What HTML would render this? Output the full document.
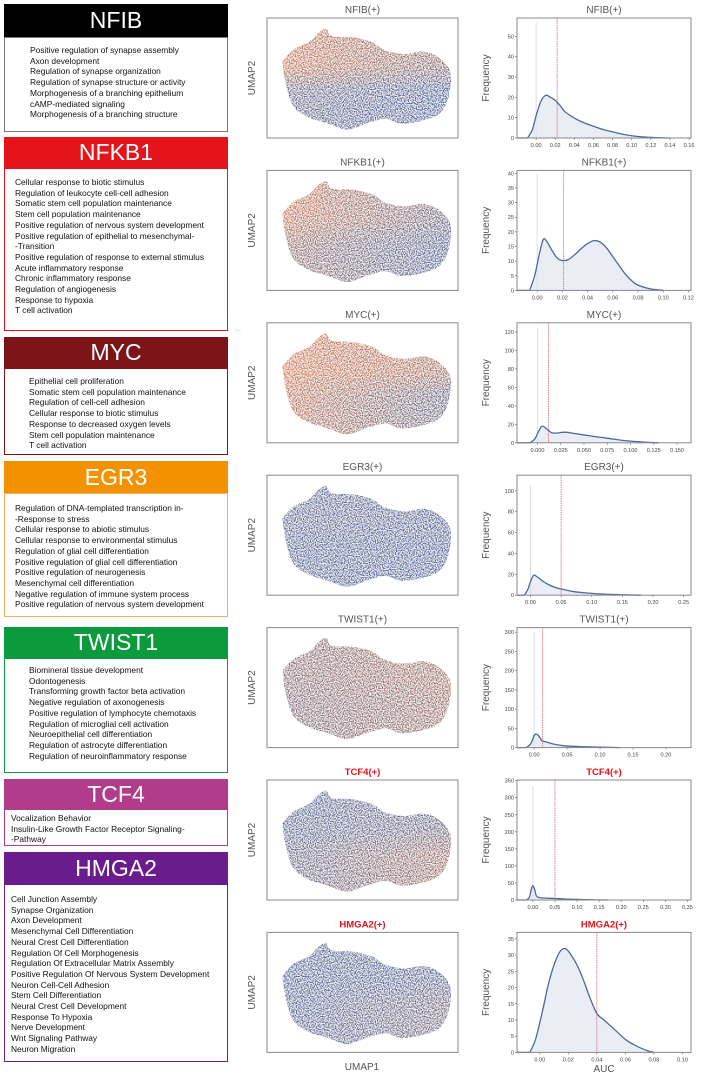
<!DOCTYPE html>
<html><head><meta charset="utf-8"><style>
body{margin:0;width:703px;height:1081px;background:#fff;position:relative;overflow:hidden;font-family:"Liberation Sans",sans-serif}
.hdr{position:absolute;left:4px;width:224px;color:#fff;font-size:23px;text-align:center;box-sizing:border-box}
.box{position:absolute;left:4px;width:224px;box-sizing:border-box;border:1px solid #777;font-size:8.4px;line-height:10.7px;color:#111}
.box div{white-space:nowrap}
svg{position:absolute;left:0;top:0}
</style></head><body>
<div class="hdr" style="top:4px;height:33px;line-height:33px;background:#000">NFIB</div>
<div class="box" style="top:37px;height:95px;padding:7px 0 0 25px">
<div>Positive regulation of synapse assembly</div><div>Axon development</div><div>Regulation of synapse organization</div><div>Regulation of synapse structure or activity</div><div>Morphogenesis of a branching epithelium</div><div>cAMP-mediated signaling</div><div>Morphogenesis of a branching structure</div></div>

<div class="hdr" style="top:137px;height:31px;line-height:31px;background:#e5141b">NFKB1</div>
<div class="box" style="top:168px;height:163px;border-color:#e5141b;padding:8px 0 0 10px">
<div>Cellular response to biotic stimulus</div><div>Regulation of leukocyte cell-cell adhesion</div><div>Somatic stem cell population maintenance</div><div>Stem cell population maintenance</div><div>Positive regulation of nervous system development</div><div>Positive regulation of epithelial to mesenchymal-</div><div>-Transition</div><div>Positive regulation of response to external stimulus</div><div>Acute inflammatory response</div><div>Chronic inflammatory response</div><div>Regulation of angiogenesis</div><div>Response to hypoxia</div><div>T cell activation</div></div>

<div class="hdr" style="top:337px;height:31px;line-height:31px;background:#7d1418">MYC</div>
<div class="box" style="top:368px;height:87px;border-color:#7d1418;padding:7px 0 0 24px">
<div>Epithelial cell proliferation</div><div>Somatic stem cell population maintenance</div><div>Regulation of cell-cell adhesion</div><div>Cellular response to biotic stimulus</div><div>Response to decreased oxygen levels</div><div>Stem cell population maintenance</div><div>T cell activation</div></div>

<div class="hdr" style="top:461px;height:32px;line-height:32px;background:#f39200">EGR3</div>
<div class="box" style="top:493px;height:124px;border-color:#f3b060;padding:9px 0 0 10px">
<div>Regulation of DNA-templated transcription in-</div><div>-Response to stress</div><div>Cellular response to abiotic stimulus</div><div>Cellular response to environmental stimulus</div><div>Regulation of glial cell differentiation</div><div>Positive regulation of glial cell differentiation</div><div>Positive regulation of neurogenesis</div><div>Mesenchymal cell differentiation</div><div>Negative regulation of immune system process</div><div>Positive regulation of nervous system development</div></div>

<div class="hdr" style="top:627px;height:31px;line-height:31px;background:#0b9a3d">TWIST1</div>
<div class="box" style="top:658px;height:115px;border-color:#0b9a3d;padding:6px 0 0 24px">
<div>Biomineral tissue development</div><div>Odontogenesis</div><div>Transforming growth factor beta activation</div><div>Negative regulation of axonogenesis</div><div>Positive regulation of lymphocyte chemotaxis</div><div>Regulation of microglial cell activation</div><div>Neuroepithelial cell differentiation</div><div>Regulation of astrocyte differentiation</div><div>Regulation of neuroinflammatory response</div></div>

<div class="hdr" style="top:779px;height:30px;line-height:30px;background:#b13c8b">TCF4</div>
<div class="box" style="top:809px;height:37px;border-color:#b13c8b;padding:3px 0 0 6px">
<div>Vocalization Behavior</div><div>Insulin-Like Growth Factor Receptor Signaling-</div><div>-Pathway</div></div>

<div class="hdr" style="top:852px;height:32px;line-height:32px;background:#6a1b8c">HMGA2</div>
<div class="box" style="top:884px;height:178px;border-color:#6a1b8c;padding:9px 0 0 6px">
<div>Cell Junction Assembly</div><div>Synapse Organization</div><div>Axon Development</div><div>Mesenchymal Cell Differentiation</div><div>Neural Crest Cell Differentiation</div><div>Regulation Of Cell Morphogenesis</div><div>Regulation Of Extracellular Matrix Assembly</div><div>Positive Regulation Of Nervous System Development</div><div>Neuron Cell-Cell Adhesion</div><div>Stem Cell Differentiation</div><div>Neural Crest Cell Development</div><div>Response To Hypoxia</div><div>Nerve Development</div><div>Wnt Signaling Pathway</div><div>Neuron Migration</div></div>

<svg id="fig" width="703" height="1081">
<defs>
<filter id="speck" x="0" y="0" width="100%" height="100%">
<feTurbulence type="fractalNoise" baseFrequency="0.85" numOctaves="1" seed="3" result="n"/>
<feColorMatrix in="n" type="matrix" values="0 0 0 0 1  0 0 0 0 1  0 0 0 0 1  0 0 0 -3 1.95" result="w"/>
<feComposite in="w" in2="SourceGraphic" operator="atop"/>
</filter>
</defs>
</svg>
<script>
const names=["NFIB","NFKB1","MYC","EGR3","TWIST1","TCF4","HMGA2"];
const titleRed=[false,false,false,false,false,true,true];
// orange weight per UMAP region: [topLeft, topRight, bottomLeft, bottomRight]
const umapOrange=[[0.9,0.45,0.3,0.05],[0.9,0.3,0.6,0.1],[0.95,0.65,0.85,0.25],[0.2,0.15,0.15,0.1],[0.45,0.65,0.4,0.6],[0.15,0.3,0.2,0.65],[0.1,0.2,0.1,0.4]];
const xTicks=[[0,0.02,0.04,0.06,0.08,0.1,0.12,0.14,0.16],[0,0.02,0.04,0.06,0.08,0.1,0.12],[0,0.025,0.05,0.075,0.1,0.125,0.15],[0,0.05,0.1,0.15,0.2,0.25],[0,0.05,0.1,0.15,0.2],[0,0.05,0.1,0.15,0.2,0.25,0.3,0.35],[0,0.02,0.04,0.06,0.08,0.1]];
const xLabels=[["0.00","0.02","0.04","0.06","0.08","0.10","0.12","0.14","0.16"],["0.00","0.02","0.04","0.06","0.08","0.10","0.12"],["0.000","0.025","0.050","0.075","0.100","0.125","0.150"],["0.00","0.05","0.10","0.15","0.20","0.25"],["0.00","0.05","0.10","0.15","0.20"],["0.00","0.05","0.10","0.15","0.20","0.25","0.30","0.35"],["0.00","0.02","0.04","0.06","0.08","0.10"]];
const yTicks=[[0,10,20,30,40,50],[0,5,10,15,20,25,30,35,40],[0,20,40,60,80,100,120],[0,20,40,60,80,100],[0,50,100,150,200,250,300],[0,50,100,150,200,250,300,350],[0,5,10,15,20,25,30,35]];
const xDomain=[[-0.02,0.162],[-0.016,0.122],[-0.022,0.165],[-0.022,0.262],[-0.026,0.238],[-0.036,0.358],[-0.016,0.106]];
const yMax=[59,41,130,115,312,352,37];
const thresholds=[0.022,0.021,0.012,0.05,0.013,0.05,0.04];
const spikeHeights=[57,40,125,105,300,335,0];
const curveX=[
[-0.009,-0.004,0,0.005,0.01,0.015,0.02,0.025,0.03,0.04,0.05,0.06,0.07,0.08,0.09,0.1,0.11,0.12,0.13,0.14],
[-0.006,-0.002,0.002,0.005,0.008,0.012,0.016,0.02,0.025,0.03,0.035,0.04,0.045,0.05,0.055,0.06,0.065,0.07,0.075,0.08,0.09,0.1],
[-0.008,-0.003,0.001,0.005,0.01,0.015,0.02,0.03,0.04,0.05,0.06,0.075,0.09,0.1,0.115,0.13],
[-0.01,-0.004,0,0.005,0.01,0.02,0.03,0.04,0.05,0.07,0.09,0.12,0.15,0.18],
[-0.012,-0.006,-0.002,0,0.004,0.008,0.012,0.02,0.03,0.04,0.05,0.07,0.1,0.13],
[-0.015,-0.008,-0.004,0,0.004,0.008,0.015,0.03,0.05,0.07,0.1,0.13,0.17],
[-0.007,-0.003,0.002,0.006,0.01,0.014,0.018,0.022,0.026,0.03,0.035,0.04,0.045,0.05,0.055,0.06,0.065,0.07,0.075,0.08]];
const curveY=[
[0,4,11,18,21,20,18.5,16,13,9.8,7.5,5.8,4.2,3,1.9,1.1,0.6,0.3,0.1,0],
[0,5,13,17.5,16.5,13.5,11,10.2,10.6,12.3,14.3,16,17,16.5,14.5,11.5,8.5,5.5,3.3,1.8,0.5,0],
[0,4,12,18,15,11,10.5,11.5,10,8.5,7,5,2.8,1.8,0.7,0],
[0,6,13,19,18,13.5,10,7.5,6,3.5,2.2,1,0.4,0],
[0,8,22,32,35,28,18,14,9,6,4,2.5,1.2,0],
[0,8,30,42,30,12,7,5.5,4.5,3,1.8,0.8,0],
[0,4,13,21,27,31,32,30,27,23,17,12,10,8,6,4,2.6,1.5,0.6,0]];

const svg=document.getElementById('fig');
const NS="http://www.w3.org/2000/svg";
function mk(tag,attrs,parent){const e=document.createElementNS(NS,tag);for(const k in attrs)e.setAttribute(k,attrs[k]);(parent||svg).appendChild(e);return e;}
function smooth(pts){let d="M"+pts[0][0]+","+pts[0][1];for(let i=0;i<pts.length-1;i++){const p0=pts[i-1]||pts[i],p1=pts[i],p2=pts[i+1],p3=pts[i+2]||p2;d+=" C"+(p1[0]+(p2[0]-p0[0])/6)+","+(p1[1]+(p2[1]-p0[1])/6)+" "+(p2[0]-(p3[0]-p1[0])/6)+","+(p2[1]-(p3[1]-p1[1])/6)+" "+p2[0]+","+p2[1];}return d;}
const blob=[[.08,.36],[.14,.26],[.22,.2],[.27,.12],[.31,.09],[.34,.15],[.45,.16],[.55,.2],[.62,.27],[.72,.3],[.82,.28],[.9,.33],[.96,.45],[.95,.66],[.9,.8],[.8,.86],[.7,.88],[.62,.84],[.52,.88],[.42,.93],[.32,.88],[.22,.83],[.14,.74],[.1,.56]];
function orangeToColor(w){const a=[55,95,170],b=[228,118,55];return "rgb("+a.map((v,i)=>Math.round(v+(b[i]-v)*w)).join(",")+")";}

for(let i=0;i<7;i++){
  const top=18+i*152.4, H=120;
  const ux=267, uw=191;
  const t=mk('text',{x:ux+uw/2,y:top-5,'text-anchor':'middle','font-size':titleRed[i]?9.5:10,fill:titleRed[i]?'#e0141b':'#555','font-weight':titleRed[i]?'bold':'normal'});
  
  
  t.textContent=names[i]+"(+)";
  const yl=mk('text',{x:0,y:0,transform:`translate(${ux-12},${top+H/2}) rotate(-90)`,'text-anchor':'middle','font-size':10,fill:'#555'});
  
  
  yl.textContent="UMAP2";
  const g=mk('g',{});
  
  
  const gid='g'+i;
  const defs=mk('defs',{},g);
  const lg=mk('linearGradient',{id:gid+'a',x1:0,y1:0,x2:1,y2:0},defs);
  mk('stop',{offset:0,'stop-color':orangeToColor(umapOrange[i][0])},lg);
  mk('stop',{offset:1,'stop-color':orangeToColor(umapOrange[i][1])},lg);
  const lg2=mk('linearGradient',{id:gid+'b',x1:0,y1:0,x2:1,y2:0},defs);
  mk('stop',{offset:0,'stop-color':orangeToColor(umapOrange[i][2])},lg2);
  mk('stop',{offset:1,'stop-color':orangeToColor(umapOrange[i][3])},lg2);
  const vg=mk('linearGradient',{id:gid+'m',x1:0,y1:0,x2:0,y2:1},defs);
  mk('stop',{offset:0.4,'stop-color':'#fff','stop-opacity':1},vg);
  mk('stop',{offset:0.62,'stop-color':'#fff','stop-opacity':0},vg);
  const mask=mk('mask',{id:gid+'k'},defs);
  mk('rect',{x:ux,y:top,width:uw,height:H,fill:`url(#${gid}m)`},mask);
  const cp=mk('clipPath',{id:gid+'c'},defs);
  const bp=blob.map(p=>[ux+p[0]*uw,top+p[1]*H]);
  mk('path',{d:smooth(bp.concat([bp[0]]))+"Z"},cp);
  const cg=mk('g',{'clip-path':`url(#${gid}c)`,filter:'url(#speck)'},g);
  mk('rect',{x:ux,y:top,width:uw,height:H,fill:`url(#${gid}b)`},cg);
  mk('rect',{x:ux,y:top,width:uw,height:H,fill:`url(#${gid}a)`,mask:`url(#${gid}k)`},cg);
  const fr=mk('rect',{x:ux,y:top,width:uw,height:H,fill:'none',stroke:'#888','stroke-width':1});
  
  

  const hx=517, hw=174;
  const [x0,x1]=xDomain[i];
  const X=v=>hx+(v-x0)/(x1-x0)*hw;
  const Y=v=>top+H-v/yMax[i]*H;
  const ht=mk('text',{x:hx+hw/2,y:top-5,'text-anchor':'middle','font-size':titleRed[i]?9.5:10,fill:titleRed[i]?'#e0141b':'#555','font-weight':titleRed[i]?'bold':'normal'});
  
  
  ht.textContent=names[i]+"(+)";
  const fl=mk('text',{x:0,y:0,transform:`translate(${hx-28},${top+H/2}) rotate(-90)`,'text-anchor':'middle','font-size':10,fill:'#555'});
  
  
  fl.textContent="Frequency";
  const pts=curveX[i].map((v,j)=>[X(v),Y(curveY[i][j])]);
  const area=mk('path',{d:smooth(pts)+` L${pts[pts.length-1][0]},${Y(0)} L${pts[0][0]},${Y(0)}Z`,fill:'#e4e7f2','fill-opacity':0.75});
  
  
  if(spikeHeights[i]>0){
    const sp=mk('line',{x1:X(0),x2:X(0),y1:Y(0),y2:Y(spikeHeights[i]),stroke:'#dcdfea','stroke-width':1});
    
    
  }
  const th=mk('line',{x1:X(thresholds[i]),x2:X(thresholds[i]),y1:top,y2:top+H,stroke:'#d9606c','stroke-width':0.8,'stroke-dasharray':'1.5,0.8'});
  
  
  const cv=mk('path',{d:smooth(pts),fill:'none',stroke:'#4a6aa0','stroke-width':1.3});
  
  
  mk('line',{x1:hx,x2:X(curveX[i][0]),y1:Y(0),y2:Y(0),stroke:'#4a6aa0','stroke-width':1.3});
  const hf=mk('rect',{x:hx,y:top,width:hw,height:H,fill:'none',stroke:'#888','stroke-width':1});
  
  
  xTicks[i].forEach((v,j)=>{
    mk('line',{x1:X(v),x2:X(v),y1:top+H,y2:top+H+2,stroke:'#666','stroke-width':0.6});
    const tl=mk('text',{x:X(v),y:top+H+9,'text-anchor':'middle','font-size':5.6,fill:'#444'});
    
    
    tl.textContent=xLabels[i][j];
  });
  yTicks[i].forEach(v=>{
    mk('line',{x1:hx-2,x2:hx,y1:Y(v),y2:Y(v),stroke:'#666','stroke-width':0.6});
    const tl=mk('text',{x:hx-3,y:Y(v)+2,'text-anchor':'end','font-size':5.6,fill:'#444'});
    
    
    tl.textContent=v;
  });
}
const u1=mk('text',{x:362,y:1070,'text-anchor':'middle','font-size':10,fill:'#555'});


u1.textContent="UMAP1";
const auc=mk('text',{x:604,y:1072,'text-anchor':'middle','font-size':10,fill:'#555'});


auc.textContent="AUC";
</script>
</body></html>
